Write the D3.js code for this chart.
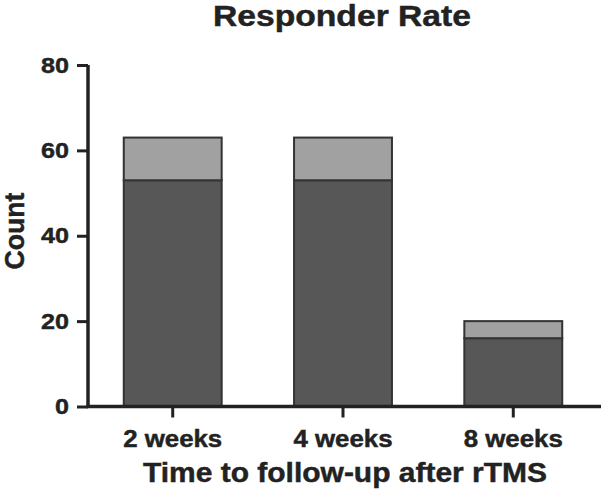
<!DOCTYPE html>
<html>
<head>
<meta charset="utf-8">
<title>Responder Rate</title>
<script src="https://cdn.jsdelivr.net/npm/d3@7"></script>
<style>
  body { margin: 0; background: #fff; }
  text { font-family: "Liberation Sans", Arial, Helvetica, sans-serif; font-weight: bold; fill: #222; stroke: #222; stroke-width: 0.45px; }
</style>
</head>
<body>
<script>
// data
var categories = ["2 weeks", "4 weeks", "8 weeks"];
var responders = [53, 53, 16];
var nonResponders = [10, 10, 4];
var yTicks = [0, 20, 40, 60, 80];

var W = 602, H = 489;
var svg = d3.select("body").append("svg")
  .attr("width", W).attr("height", H);

var x = d3.scaleBand()
  .domain(categories)
  .range([88, 598])
  .paddingInner(0.425)
  .paddingOuter(0.21);

var y = d3.scaleLinear()
  .domain([0, 80])
  .range([406.5, 65]);

// stacked bars
var rows = categories.map(function(c, i){
  return {cat: c, a: responders[i], b: nonResponders[i]};
});

var g = svg.append("g");
g.selectAll("rect.lo")
  .data(rows)
  .enter().append("rect")
  .attr("class", "lo")
  .attr("x", function(d){ return x(d.cat); })
  .attr("y", function(d){ return y(d.a); })
  .attr("width", x.bandwidth())
  .attr("height", function(d){ return y(0) - y(d.a); })
  .attr("fill", "#575757")
  .attr("stroke", "#333")
  .attr("stroke-width", 2);

g.selectAll("rect.hi")
  .data(rows)
  .enter().append("rect")
  .attr("class", "hi")
  .attr("x", function(d){ return x(d.cat); })
  .attr("y", function(d){ return y(d.a + d.b); })
  .attr("width", x.bandwidth())
  .attr("height", function(d){ return y(d.a) - y(d.a + d.b); })
  .attr("fill", "#a1a1a1")
  .attr("stroke", "#333")
  .attr("stroke-width", 2);

// y axis
var yAxis = svg.append("g")
  .attr("transform", "translate(88,0)")
  .call(d3.axisLeft(y).tickValues(yTicks).tickSize(11).tickPadding(8));
yAxis.select(".domain").attr("stroke", "#222").attr("stroke-width", 3.5)
  .attr("d", "M0," + y(80) + "V" + y(0));
yAxis.selectAll(".tick line").attr("stroke", "#222").attr("stroke-width", 3);
yAxis.selectAll(".tick text")
  .attr("font-size", 22)
  .attr("fill", "#222")
  .attr("textLength", function(d){ return String(d).length * 14; })
  .attr("lengthAdjust", "spacingAndGlyphs");

// x axis
var xAxis = svg.append("g")
  .attr("transform", "translate(0," + y(0) + ")")
  .call(d3.axisBottom(x).tickSize(11).tickPadding(13));
xAxis.select(".domain").attr("stroke", "#222").attr("stroke-width", 3.5)
  .attr("d", "M86.5,0H601");
xAxis.selectAll(".tick line").attr("stroke", "#222").attr("stroke-width", 3);
xAxis.selectAll(".tick text")
  .attr("font-size", 23)
  .attr("fill", "#222")
  .attr("textLength", 99)
  .attr("lengthAdjust", "spacingAndGlyphs");

// titles
svg.append("text")
  .attr("x", 342).attr("y", 26)
  .attr("text-anchor", "middle")
  .attr("font-size", 29)
  .attr("textLength", 258)
  .attr("lengthAdjust", "spacingAndGlyphs")
  .text("Responder Rate");

svg.append("text")
  .attr("x", 345).attr("y", 482)
  .attr("text-anchor", "middle")
  .attr("font-size", 28)
  .attr("textLength", 404)
  .attr("lengthAdjust", "spacingAndGlyphs")
  .text("Time to follow-up after rTMS");

svg.append("text")
  .attr("transform", "translate(24,231) rotate(-90)")
  .attr("text-anchor", "middle")
  .attr("font-size", 27)
  .attr("textLength", 77)
  .attr("lengthAdjust", "spacingAndGlyphs")
  .text("Count");
</script>
</body>
</html>
